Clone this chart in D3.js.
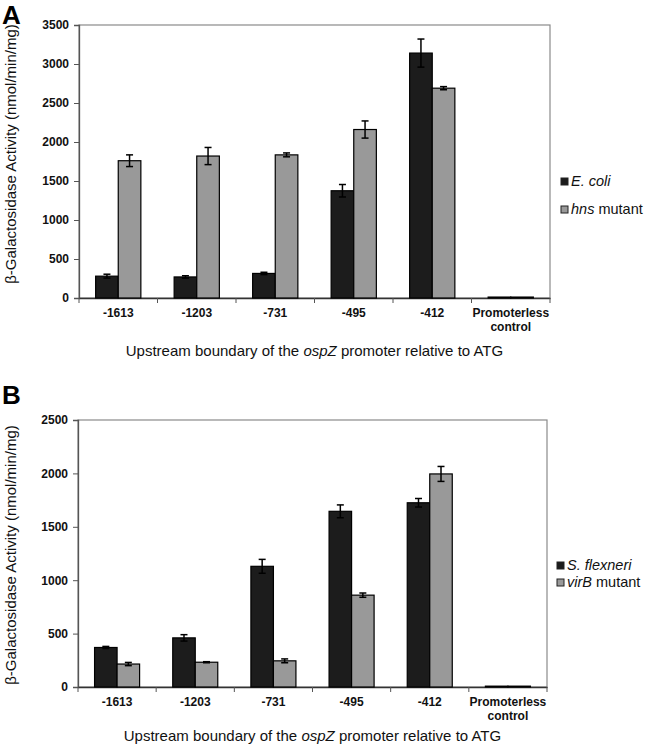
<!DOCTYPE html>
<html><head><meta charset="utf-8">
<script src="https://cdn.jsdelivr.net/npm/d3@7"></script>
<style>body{margin:0;background:#fff}svg{display:block}</style>
</head><body>
<script>
const categories = ["-1613","-1203","-731","-495","-412","Promoterless control"];
// Panel A
const ecoli    = [280, 270, 315, 1375, 3140, 12];
const ecoliErr = [25, 15, 15, 80, 180, 0];
const hns      = [1760, 1820, 1835, 2160, 2690, 12];
const hnsErr   = [75, 110, 25, 110, 20, 0];
const ticksA   = [0,500,1000,1500,2000,2500,3000,3500];
// Panel B
const sflex    = [370, 460, 1130, 1645, 1725, 8];
const sflexErr = [10, 30, 65, 60, 40, 0];
const virb     = [215, 232, 245, 860, 1995, 8];
const virbErr  = [15, 5, 18, 20, 70, 0];
const ticksB   = [0,500,1000,1500,2000,2500];

const svg = d3.select("body").append("svg").attr("width",650).attr("height",746);
const FONT = "Liberation Sans, Arial, sans-serif";

function panel(o){
  const g = svg.append("g");
  const x = d3.scaleBand().domain(categories).range([o.left,o.right]).padding(0);
  const y = d3.scaleLinear().domain([0,o.max]).range([o.bottom,o.top]);
  const bw = x.bandwidth()*0.288;
  g.append("rect").attr("x",o.left).attr("y",o.top).attr("width",o.right-o.left).attr("height",o.bottom-o.top)
    .attr("fill","none").attr("stroke","#8a8a8a").attr("stroke-width",1.2);
  const ya = g.append("g").attr("transform",`translate(${o.left},0)`)
    .call(d3.axisLeft(y).tickValues(o.ticks).tickSize(5).tickPadding(5).tickFormat(d3.format("d")));
  ya.select(".domain").attr("stroke","#555").attr("stroke-width",1.3);
  ya.selectAll(".tick line").attr("stroke","#555");
  ya.selectAll("text").attr("font-family",FONT).attr("font-weight","bold").attr("font-size",12).attr("fill","#111");
  const xa = g.append("g").attr("transform",`translate(0,${o.bottom})`)
    .call(d3.axisBottom(x).tickSize(0).tickFormat(""));
  xa.select(".domain").attr("stroke","#333").attr("stroke-width",1.3);
  const edges = categories.map(c=>x(c)).concat([o.right]);
  g.selectAll(".xt").data(edges).join("line").attr("class","xt")
    .attr("x1",d=>d).attr("x2",d=>d).attr("y1",o.bottom).attr("y2",o.bottom+5).attr("stroke","#555");
  g.selectAll(".xl").data(categories).join("text").attr("class","xl")
    .attr("x",d=>x(d)+x.bandwidth()/2).attr("y",o.bottom+19)
    .attr("text-anchor","middle").attr("font-family",FONT).attr("font-weight","bold").attr("font-size",12).attr("fill","#111")
    .each(function(d){
      const parts = d==="Promoterless control" ? ["Promoterless","control"] : [d];
      parts.forEach((p,i)=>d3.select(this).append("tspan").attr("x",x(d)+x.bandwidth()/2).attr("dy",i?14:0).text(p));
    });
  const series = [{v:o.s1,e:o.e1,fill:"#1c1c1c",off:-1},{v:o.s2,e:o.e2,fill:"#999999",off:0}];
  series.forEach(s=>{
    g.selectAll(null).data(categories).join("rect")
      .attr("x",d=>x(d)+x.bandwidth()/2+s.off*bw).attr("width",bw)
      .attr("y",(d,i)=>y(s.v[i])).attr("height",(d,i)=>o.bottom-y(s.v[i]))
      .attr("fill",s.fill).attr("stroke","#000").attr("stroke-width",1.2);
    const cx = (d)=>x(d)+x.bandwidth()/2+s.off*bw+bw/2;
    const idx = d=>categories.indexOf(d);
    const eg = g.selectAll(null).data(categories.filter((d,i)=>s.e[i]>0)).join("g");
    eg.append("line").attr("x1",cx).attr("x2",cx)
      .attr("y1",d=>y(s.v[idx(d)]+s.e[idx(d)]))
      .attr("y2",d=>y(s.v[idx(d)]-s.e[idx(d)]))
      .attr("stroke","#000").attr("stroke-width",1.5);
    [1,-1].forEach(sg=>{
      eg.append("line").attr("x1",d=>cx(d)-3.5).attr("x2",d=>cx(d)+3.5)
        .attr("y1",d=>y(s.v[idx(d)]+sg*s.e[idx(d)]))
        .attr("y2",d=>y(s.v[idx(d)]+sg*s.e[idx(d)]))
        .attr("stroke","#000").attr("stroke-width",1.5);
    });
  });
  g.append("text").attr("transform",`translate(${o.ytx},${o.yty}) rotate(-90)`)
    .attr("text-anchor","middle").attr("font-family",FONT).attr("font-size",15).attr("fill","#111")
    .text("β-Galactosidase Activity (nmol/min/mg)");
  const xt = g.append("text").attr("x",(o.left+o.right)/2).attr("y",o.xty)
    .attr("text-anchor","middle").attr("font-family",FONT).attr("font-size",15).attr("fill","#111");
  xt.append("tspan").text("Upstream boundary of the ");
  xt.append("tspan").attr("font-style","italic").text("ospZ");
  xt.append("tspan").text(" promoter relative to ATG");
  g.append("text").attr("x",o.lx).attr("y",o.ly).attr("font-family",FONT).attr("font-weight","bold")
    .attr("font-size",26).attr("fill","#000").text(o.letter);
  o.legend.forEach((L,i)=>{
    const ly = o.legY[i];
    g.append("rect").attr("x",o.legX).attr("y",ly-5).attr("width",7).attr("height",7)
      .attr("fill",i?"#999":"#1c1c1c").attr("stroke","#222").attr("stroke-width",1);
    const t = g.append("text").attr("x",o.legX+10).attr("y",ly+3).attr("font-family",FONT).attr("font-size",14.5).attr("fill","#111");
    t.append("tspan").attr("font-style","italic").text(L[0]);
    t.append("tspan").text(L[1]);
  });
}

panel({left:79,right:550,top:25,bottom:298,max:3500,ticks:ticksA,s1:ecoli,e1:ecoliErr,s2:hns,e2:hnsErr,
  ytx:16,yty:154,xty:356,letter:"A",lx:2,ly:24,legX:561,legY:[183,211],
  legend:[["E. coli",""],["hns"," mutant"]]});
panel({left:78,right:547,top:420,bottom:687,max:2500,ticks:ticksB,s1:sflex,e1:sflexErr,s2:virb,e2:virbErr,
  ytx:16,yty:555,xty:741,letter:"B",lx:2,ly:404,legX:557,legY:[567,584],
  legend:[["S. flexneri",""],["virB"," mutant"]]});
</script>
</body></html>
